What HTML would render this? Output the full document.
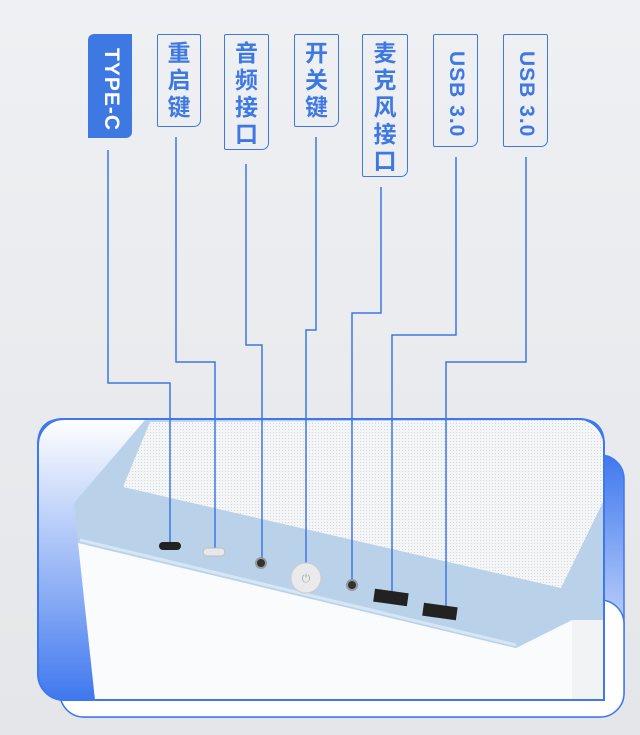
<!DOCTYPE html>
<html><head><meta charset="utf-8"><style>
html,body{margin:0;padding:0;}
body{width:640px;height:735px;overflow:hidden;background:linear-gradient(180deg,#eef0f3,#e4e6e9);position:relative;font-family:"Liberation Sans","Noto Sans CJK SC",sans-serif;}
.lb{position:absolute;top:34px;box-sizing:border-box;border:1.5px solid #3d78e3;border-radius:2px 2px 7px 2px;color:#3d78e3;font-weight:bold;font-size:23px;line-height:27px;text-align:center;padding-top:5px;}
.v{writing-mode:vertical-rl;font-size:21px;letter-spacing:1px;line-height:42px;padding-top:8px;}
</style></head><body>
<svg width="640" height="735" style="position:absolute;left:0;top:0">
<defs>
<linearGradient id="g1" x1="0" y1="0" x2="0" y2="1"><stop offset="0" stop-color="#ffffff"/><stop offset="0.6" stop-color="#8fb0f5"/><stop offset="1" stop-color="#3f78ee"/></linearGradient>
<linearGradient id="g2" x1="0" y1="0" x2="0" y2="1"><stop offset="0" stop-color="#3f78ee"/><stop offset="1" stop-color="#ffffff"/></linearGradient>
<pattern id="dots" width="3" height="3" patternUnits="userSpaceOnUse"><rect width="3" height="3" fill="#f4f5f6"/><rect width="1" height="1" fill="#d6d8db"/></pattern>
</defs>
<rect x="60" y="455" width="564" height="262" rx="24" fill="url(#g2)" stroke="#3f78ee" stroke-width="1.5"/>
<rect x="60" y="600" width="564" height="117" rx="24" fill="#fff" stroke="#3f78ee" stroke-width="1.5"/>
<rect x="38" y="419" width="566" height="281" rx="26" fill="url(#g1)" stroke="#3f78ee" stroke-width="2"/>
<polygon points="145,420 585,420 604,440 604,620 572,620 516,648 78,543 74,503" fill="#b9d2ea"/>
<polygon points="123,487 150,422 585,420 604,440 604,500 561,588" fill="url(#dots)"/>
<polygon points="78,543 516,648 572,620 572,700 95,700" fill="#fafbfc"/>
<polygon points="572,620 604,620 604,700 572,700" fill="#f2f3f5"/>
<line x1="80" y1="540" x2="516" y2="645" stroke="#d7e6f4" stroke-width="3"/>
<path d="M38,445 Q38,419 64,419 L578,419 Q604,419 604,445 L604,700 L95,700" fill="none" stroke="#3f78ee" stroke-width="2"/>
<g fill="none" stroke="#3d78e3" stroke-width="1.5">
<polyline points="108,150 108,383 170,383 170,543"/>
<polyline points="176,137 176,362 215,362 215,548"/>
<polyline points="246,164 246,345 262,345 262,560"/>
<polyline points="316,137 316,330 306,330 306,566"/>
<polyline points="381,187 381,313 352,313 352,580"/>
<polyline points="456,157 456,335 392,335 392,594"/>
<polyline points="526,157 526,362 446,362 446,609"/>
</g>
<rect x="159" y="542" width="22" height="8" rx="4" fill="#222"/>
<rect x="203" y="548" width="22" height="8" rx="4" fill="#e8e8ea" stroke="#bbb"/>
<circle cx="261" cy="563" r="5" fill="#333" stroke="#999" stroke-width="2"/>
<circle cx="306" cy="578" r="15" fill="#eaeaec" stroke="#ccc"/>
<text x="306" y="582" font-size="11" fill="#aaa" text-anchor="middle">⏻</text>
<circle cx="352" cy="585" r="5" fill="#333" stroke="#999" stroke-width="2"/>
<rect x="374" y="591" width="34" height="13" fill="#222" transform="rotate(8 391 597)"/>
<rect x="423" y="605" width="34" height="13" fill="#222" transform="rotate(8 440 611)"/>
</svg>
<div class="lb v" style="left:88px;width:44px;height:104px;background:#3d78e3;color:#fff;border-radius:6px 0 6px 0;border:none;">TYPE-C</div>
<div class="lb" style="left:157px;width:44px;height:93px;">重<br>启<br>键</div>
<div class="lb" style="left:224px;width:45px;height:116px;">音<br>频<br>接<br>口</div>
<div class="lb" style="left:294px;width:45px;height:93px;">开<br>关<br>键</div>
<div class="lb" style="left:362px;width:46px;height:143px;">麦<br>克<br>风<br>接<br>口</div>
<div class="lb v" style="left:433px;width:45px;height:113px;">USB 3.0</div>
<div class="lb v" style="left:503px;width:45px;height:113px;">USB 3.0</div>
</body></html>
